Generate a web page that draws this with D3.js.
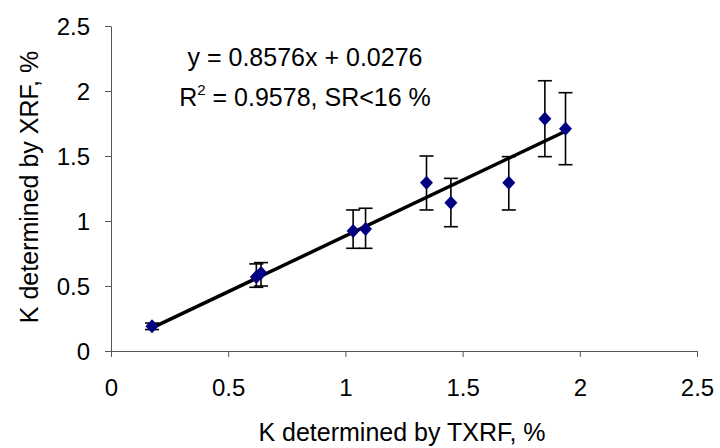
<!DOCTYPE html>
<html><head><meta charset="utf-8">
<script src="https://cdn.jsdelivr.net/npm/d3@7"></script>
<style>body{margin:0;background:#fff}text{font-family:Arial,"Liberation Sans",sans-serif}</style>
</head><body>
<svg id="c" width="720" height="448"></svg>
<script>
const txrf = [0.175, 0.62, 0.64, 1.033, 1.086, 1.346, 1.45, 1.697, 1.851, 1.939];
const xrf  = [0.19, 0.57, 0.60, 0.923, 0.938, 1.295, 1.141, 1.295, 1.787, 1.71];
const errHigh = [0.215, 0.67, 0.68, 1.085, 1.098, 1.50, 1.328, 1.495, 2.079, 1.987];
const errLow  = [0.165, 0.49, 0.50, 0.79, 0.79, 1.085, 0.956, 1.085, 1.495, 1.433];
const xTicks = [0, 0.5, 1, 1.5, 2, 2.5];
const yTicks = [0, 0.5, 1, 1.5, 2, 2.5];
const slope = 0.8576, intercept = 0.0276;
const eqLine1 = "y = 0.8576x + 0.0276";

const FS = "25px", TFS = "24px";
const svg = d3.select("#c");
const x = d3.scaleLinear().domain([0, 2.5]).range([111, 697]);
const y = d3.scaleLinear().domain([0, 2.5]).range([351, 26]);
const axisColor = "#555";

const gx = svg.append("g").attr("transform", "translate(0,351)")
  .call(d3.axisBottom(x).tickValues(xTicks).tickFormat(d3.format("")).tickSize(6).tickSizeOuter(0));
gx.attr("font-size", null).attr("font-family", null);
gx.select(".domain").attr("stroke", axisColor);
gx.selectAll(".tick line").attr("stroke", axisColor);
gx.selectAll(".tick text").style("font-size", TFS).attr("fill", "#000").attr("dy", "0").attr("y", 45);

const gy = svg.append("g").attr("transform", "translate(111,0)")
  .call(d3.axisLeft(y).tickValues(yTicks).tickFormat(d3.format("")).tickSize(6).tickSizeOuter(0));
gy.attr("font-size", null).attr("font-family", null);
gy.select(".domain").attr("stroke", axisColor);
gy.selectAll(".tick line").attr("stroke", axisColor);
gy.selectAll(".tick text").style("font-size", TFS).attr("fill", "#000").attr("x", -21).attr("dy", "0.35em");

svg.append("text").attr("x", 402).attr("y", 441).attr("text-anchor", "middle")
  .style("font-size", FS).text("K determined by TXRF, %");
svg.append("text").attr("transform", "translate(38,187) rotate(-90)").attr("text-anchor", "middle")
  .style("font-size", FS).text("K determined by XRF, %");

// trend line
const xmin = d3.min(txrf), xmax = d3.max(txrf);
svg.append("line")
  .attr("x1", x(xmin)).attr("y1", y(slope * xmin + intercept))
  .attr("x2", x(xmax)).attr("y2", y(slope * xmax + intercept))
  .attr("stroke", "#000").attr("stroke-width", 3.5);

// error bars
const data = txrf.map((d, i) => ({x: d, y: xrf[i], hi: errHigh[i], lo: errLow[i]}));
const eb = svg.append("g").attr("stroke", "#000").attr("stroke-width", 1.6);
data.forEach(d => {
  eb.append("line").attr("x1", x(d.x)).attr("x2", x(d.x)).attr("y1", y(d.hi)).attr("y2", y(d.lo));
  eb.append("line").attr("x1", x(d.x) - 7).attr("x2", x(d.x) + 7).attr("y1", y(d.hi)).attr("y2", y(d.hi));
  eb.append("line").attr("x1", x(d.x) - 7).attr("x2", x(d.x) + 7).attr("y1", y(d.lo)).attr("y2", y(d.lo));
});

// diamonds
svg.append("g").selectAll("path").data(data).join("path")
  .attr("transform", d => `translate(${x(d.x)},${y(d.y)})`)
  .attr("d", "M0,-7L6.5,0L0,7L-6.5,0Z")
  .attr("fill", "#000080");

// equation text
svg.append("text").attr("x", 305).attr("y", 66).attr("text-anchor", "middle")
  .style("font-size", FS).text(eqLine1);
const t2 = svg.append("text").attr("x", 305).attr("y", 106).attr("text-anchor", "middle").style("font-size", FS);
t2.append("tspan").text("R");
t2.append("tspan").style("font-size", "15px").attr("dy", -11).text("2");
t2.append("tspan").attr("dy", 11).text(" = 0.9578, SR<16 %");
</script>
</body></html>
